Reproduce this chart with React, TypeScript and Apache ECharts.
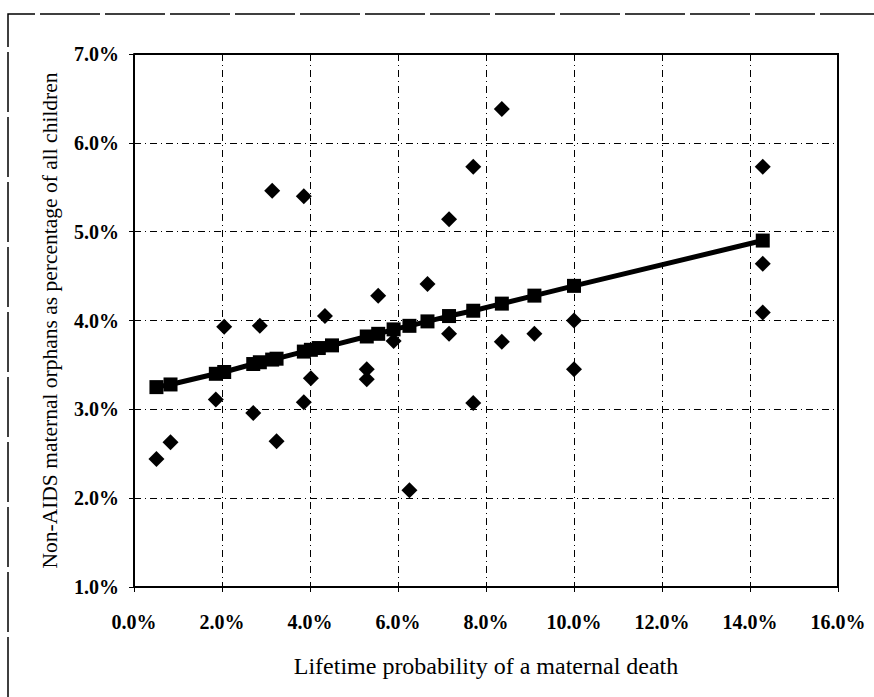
import React, { useEffect, useRef } from "react";
import * as echarts from "echarts";

// Observed countries: lifetime probability of a maternal death (%) vs
// non-AIDS maternal orphans as a share of all children (%).
const obsX = [
  0.51, 0.83, 1.86, 2.05, 2.71, 2.86, 3.14, 3.24, 3.86, 3.86, 4.02, 4.34,
  5.29, 5.29, 5.55, 5.9, 6.26, 6.67, 7.16, 7.16, 7.71, 7.71, 8.36, 8.36,
  9.1, 10.0, 10.0, 14.29, 14.29, 14.29,
];
const obsY = [
  2.44, 2.63, 3.11, 3.93, 2.96, 3.94, 5.46, 2.64, 3.08, 5.4, 3.35, 4.05,
  3.45, 3.34, 4.28, 3.77, 2.09, 4.41, 5.14, 3.85, 5.73, 3.07, 6.38, 3.76,
  3.85, 4.0, 3.45, 5.73, 4.64, 4.09,
];

// Fitted trend values at each observed x.
const fitX = [
  0.51, 0.83, 1.86, 2.05, 2.71, 2.86, 3.14, 3.24, 3.86, 4.02, 4.2, 4.5,
  5.29, 5.55, 5.9, 6.26, 6.67, 7.16, 7.71, 8.36, 9.1, 10.0, 14.29,
];
const fitY = [
  3.25, 3.28, 3.4, 3.42, 3.51, 3.53, 3.56, 3.57, 3.65, 3.67, 3.69, 3.72,
  3.82, 3.85, 3.9, 3.94, 3.99, 4.05, 4.11, 4.19, 4.28, 4.39, 4.9,
];

const xTicks = { min: 0, max: 16, interval: 2 };
const yTicks = { min: 1, max: 7, interval: 1 };

const xTitle = "Lifetime probability of a maternal death";
const yTitle = "Non-AIDS maternal orphans as percentage of all children";

const SERIF = "'Liberation Serif', 'DejaVu Serif', serif";

export default function App() {
  const ref = useRef<HTMLDivElement>(null);

  useEffect(() => {
    if (!ref.current) return;
    const chart = echarts.init(ref.current, null, { renderer: "svg" });

    const pct = (v: number) => `${v.toFixed(1)}%`;
    const gridLine = {
      show: true,
      lineStyle: { color: "#000", width: 1, type: [7, 4, 1, 4] as number[] },
    };
    const tickLabel = {
      formatter: pct,
      color: "#000",
      fontFamily: SERIF,
      fontWeight: "bold",
      fontSize: 20,
    };

    chart.setOption({
      animation: false,
      backgroundColor: "#fff",
      grid: { left: 134, top: 54, right: 36, bottom: 110, containLabel: false },
      xAxis: {
        type: "value",
        ...xTicks,
        axisLine: { show: true, onZero: false, lineStyle: { color: "#000", width: 2 } },
        axisTick: { show: true, length: 5, lineStyle: { color: "#000", width: 1 } },
        axisLabel: { ...tickLabel, margin: 25 },
        splitLine: gridLine,
        name: xTitle,
        nameLocation: "middle",
        nameGap: 67,
        nameTextStyle: { color: "#000", fontFamily: SERIF, fontSize: 24 },
      },
      yAxis: {
        type: "value",
        ...yTicks,
        axisLine: { show: true, onZero: false, lineStyle: { color: "#000", width: 2 } },
        axisTick: { show: true, length: 5, lineStyle: { color: "#000", width: 1 } },
        axisLabel: { ...tickLabel, margin: 15 },
        splitLine: gridLine,
        name: yTitle,
        nameLocation: "middle",
        nameGap: 73,
        nameTextStyle: { color: "#000", fontFamily: SERIF, fontSize: 21.5 },
      },
      graphic: [
        // plot frame on the top and right sides
        {
          type: "polyline",
          shape: { points: [[134, 54], [838, 54], [838, 587]] },
          style: { stroke: "#000", lineWidth: 2, fill: null },
          z: 10,
        },
        // page frame
        {
          type: "polyline",
          shape: { points: [[8, 697], [8, 14], [874, 14]] },
          style: { stroke: "#000", lineWidth: 1.5, fill: null, lineDash: [60, 5] },
        },
      ],
      series: [
        {
          type: "scatter",
          symbol: "diamond",
          symbolSize: 16,
          itemStyle: { color: "#000", opacity: 1 },
          data: obsX.map((x, i) => [x, obsY[i]]),
          z: 3,
        },
        {
          type: "line",
          symbol: "rect",
          symbolSize: 14,
          showSymbol: true,
          itemStyle: { color: "#000", opacity: 1 },
          lineStyle: { color: "#000", width: 5 },
          data: fitX.map((x, i) => [x, fitY[i]]),
          z: 4,
        },
      ],
    });

    return () => chart.dispose();
  }, []);

  return (
    <div
      ref={ref}
      style={{ position: "absolute", left: 0, top: 0, width: 874, height: 697 }}
    />
  );
}
